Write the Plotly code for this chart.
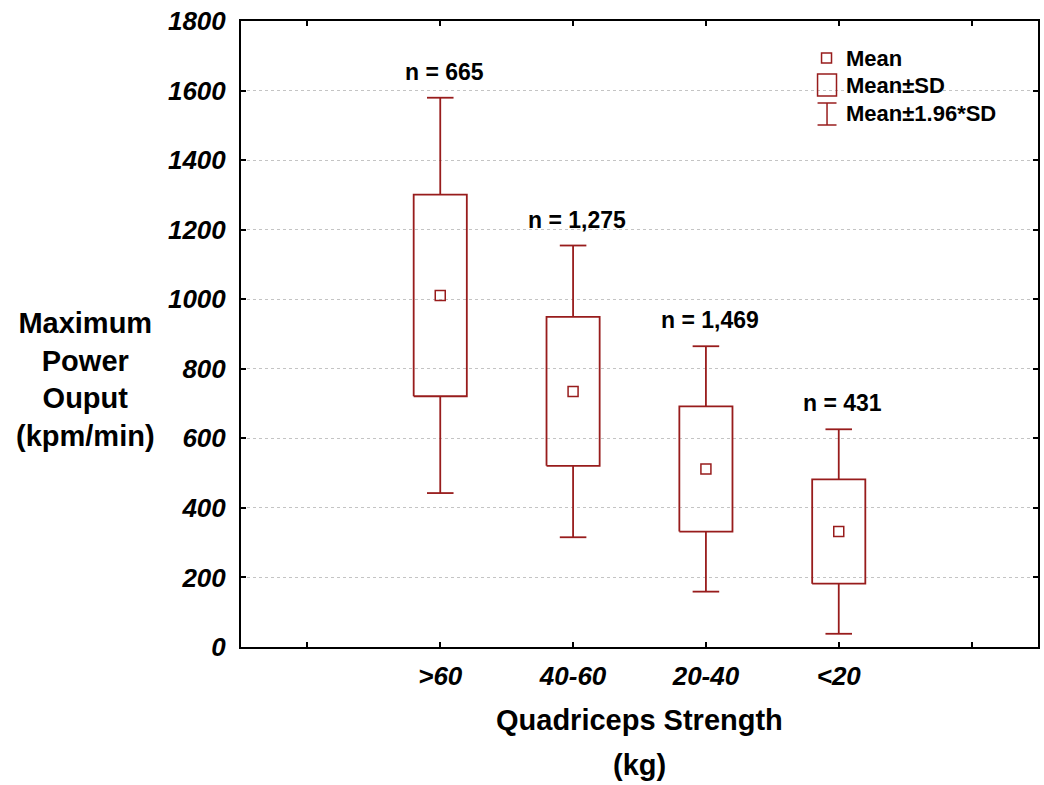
import plotly.graph_objects as go

# ---- data ----
categories = ["", ">60", "40-60", "20-40", "<20", ""]
groups = [">60", "40-60", "20-40", "<20"]
means = [1011, 735, 512, 332]
sds = [290, 214, 180, 150]
n_labels = ["n = 665", "n = 1,275", "n = 1,469", "n = 431"]
y_ticks = [0, 200, 400, 600, 800, 1000, 1200, 1400, 1600, 1800]

RED = "#981c1c"
FONT = "Liberation Sans, Arial, sans-serif"
BOX_HALF = 0.2
CAP_HALF = 0.1

pos = [categories.index(g) for g in groups]
q1 = [m - s for m, s in zip(means, sds)]
q3 = [m + s for m, s in zip(means, sds)]
lo = [m - 1.96 * s for m, s in zip(means, sds)]
hi = [m + 1.96 * s for m, s in zip(means, sds)]

# build box outlines and whiskers from the data arrays
bx, by, wx, wy = [], [], [], []
for p, a, b, l, h in zip(pos, q1, q3, lo, hi):
    bx += [p - BOX_HALF, p + BOX_HALF, p + BOX_HALF, p - BOX_HALF, p - BOX_HALF, None]
    by += [a, a, b, b, a, None]
    wx += [p, p, None, p - CAP_HALF, p + CAP_HALF, None,
           p, p, None, p - CAP_HALF, p + CAP_HALF, None]
    wy += [b, h, None, h, h, None, a, l, None, l, l, None]

fig = go.Figure()
fig.add_trace(go.Scatter(x=wx, y=wy, mode="lines", line=dict(color=RED, width=1.8),
                         showlegend=False, hoverinfo="skip"))
fig.add_trace(go.Scatter(x=bx, y=by, mode="lines", line=dict(color=RED, width=1.8),
                         showlegend=False, hoverinfo="skip"))
fig.add_trace(go.Scatter(
    x=pos, y=means, mode="markers",
    marker=dict(symbol="square-open", size=10, color=RED, line=dict(width=1.5, color=RED)),
    showlegend=False,
))

for p, h, t in zip(pos, hi, n_labels):
    fig.add_annotation(x=p, y=h, text=t, showarrow=False, yanchor="middle",
                       yshift=26, xshift=4,
                       font=dict(family=FONT, size=23, color="black", weight="bold"))

# plot-area geometry helpers (pixels -> paper)
L, R, T, B = 241, 1040, 21, 647
def px(x):
    return (x - L) / (R - L)
def py(y):
    return (B - y) / (B - T)

# legend drawn manually
leg_font = dict(family=FONT, size=22, color="black", weight="bold")
fig.add_shape(type="rect", xref="paper", yref="paper",
              x0=px(823), x1=px(833), y0=py(63), y1=py(53),
              line=dict(color=RED, width=1.5))
fig.add_shape(type="rect", xref="paper", yref="paper",
              x0=px(819), x1=px(838), y0=py(96), y1=py(74),
              line=dict(color=RED, width=1.5))
for seg in [((819, 103), (838, 103)), ((819, 125), (838, 125)), ((828.5, 103), (828.5, 125))]:
    fig.add_shape(type="line", xref="paper", yref="paper",
                  x0=px(seg[0][0]), y0=py(seg[0][1]), x1=px(seg[1][0]), y1=py(seg[1][1]),
                  line=dict(color=RED, width=1.5))
for txt, yy in [("Mean", 58), ("Mean±SD", 85), ("Mean±1.96*SD", 113)]:
    fig.add_annotation(xref="paper", yref="paper", x=px(846), y=py(yy), text=txt,
                       showarrow=False, xanchor="left", yanchor="middle", font=leg_font)

# axis titles
title_font = dict(family=FONT, size=29, color="black", weight="bold")
fig.add_annotation(xref="paper", yref="paper", x=px(85), y=py(379),
                   text="Maximum<br>Power<br>Ouput<br>(kpm/min)", showarrow=False,
                   xanchor="center", yanchor="middle", align="center", font=title_font)
fig.add_annotation(xref="paper", yref="paper", x=0.5, y=py(720),
                   text="Quadriceps Strength", showarrow=False,
                   xanchor="center", yanchor="middle", font=title_font)
fig.add_annotation(xref="paper", yref="paper", x=0.5, y=py(765),
                   text="(kg)", showarrow=False,
                   xanchor="center", yanchor="middle", font=title_font)

tick_font = dict(family=FONT, size=26, color="black", weight="bold", style="italic")
fig.update_xaxes(
    range=[-0.5, len(categories) - 0.5], tickvals=list(range(len(categories))),
    ticktext=categories, showgrid=False, zeroline=False,
    showline=True, linecolor="black", linewidth=2, mirror="ticks",
    ticks="inside", ticklen=5, tickwidth=1.5, tickcolor="black",
    tickfont=tick_font, ticklabelstandoff=5,
)
fig.update_yaxes(
    range=[0, 1800], tickvals=y_ticks, showgrid=True, gridcolor="#c4c4c4",
    gridwidth=1, griddash="dot", zeroline=False,
    showline=True, linecolor="black", linewidth=2, mirror="ticks",
    ticks="inside", ticklen=5, tickwidth=1.5, tickcolor="black",
    tickfont=tick_font, ticklabelstandoff=8,
)
fig.update_layout(
    width=1044, height=785,
    margin=dict(l=L, r=1044 - R, t=T, b=785 - B),
    paper_bgcolor="white", plot_bgcolor="white",
    font=dict(family=FONT), showlegend=False,
)
fig.write_html("out.html")
